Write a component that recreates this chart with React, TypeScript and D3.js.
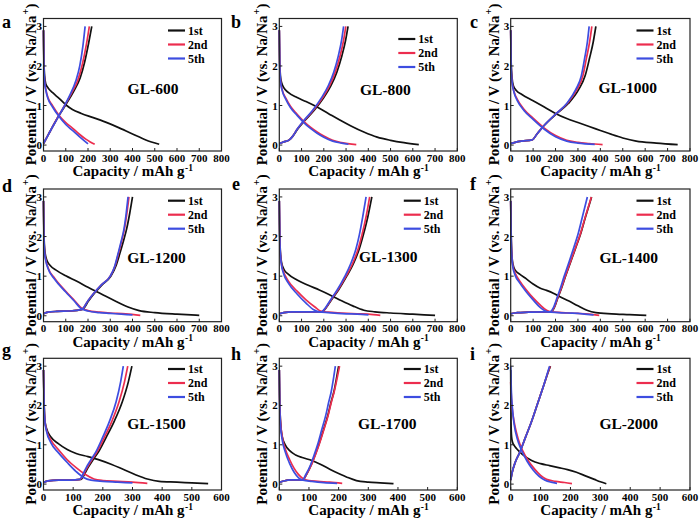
import React from "react";
import * as d3 from "d3";

type Pt = [number, number];

const FONT = '"Liberation Serif", "Times New Roman", serif';

const sampleNames = ["GL-600", "GL-800", "GL-1000", "GL-1200", "GL-1300", "GL-1400", "GL-1500", "GL-1700", "GL-2000"];
const panelLetters = ["a", "b", "c", "d", "e", "f", "g", "h", "i"];
const cycleLabels = ["1st", "2nd", "5th"];
const cycleColors = ["#111111", "#ec2d4e", "#3d4de0"];
const xTicksWide = [0, 100, 200, 300, 400, 500, 600, 700, 800];
const xTicksNarrow = [0, 100, 200, 300, 400, 500, 600];
const yTicks = [0, 1, 2, 3];

// capacity (mAh/g), potential (V): d = discharge, c = charge
const a1d: Pt[] = [[0,2.9],[2,2.1],[5,1.75],[10,1.55],[20,1.45],[40,1.33],[70,1.18],[100,1.02],[130,0.9],[170,0.8],[220,0.7],[270,0.6],[330,0.46],[400,0.28],[460,0.13],[520,0.02]];
const a1c: Pt[] = [[0,0.04],[10,0.14],[30,0.35],[60,0.66],[100,1.02],[135,1.35],[165,1.7],[185,2.1],[203,2.58],[217,3.0]];
const a2d: Pt[] = [[0,2.9],[2,2.0],[5,1.6],[10,1.42],[20,1.2],[40,1.0],[70,0.75],[100,0.57],[130,0.43],[160,0.28],[190,0.15],[210,0.08],[230,0.02]];
const a2c: Pt[] = [[0,0.04],[10,0.14],[30,0.35],[60,0.66],[95,1.0],[125,1.3],[155,1.65],[175,2.05],[193,2.55],[206,3.0]];
const a5d: Pt[] = [[0,2.9],[2,2.0],[5,1.6],[10,1.4],[20,1.18],[40,0.97],[70,0.72],[100,0.52],[130,0.37],[160,0.22],[185,0.1],[200,0.03]];
const a5c: Pt[] = [[0,0.04],[10,0.14],[30,0.35],[60,0.65],[90,0.95],[120,1.28],[145,1.62],[163,2.0],[177,2.5],[187,3.0]];

const b1d: Pt[] = [[0,2.9],[2,2.1],[6,1.7],[12,1.55],[20,1.45],[40,1.33],[80,1.2],[120,1.1],[170,0.96],[220,0.8],[270,0.64],[320,0.49],[380,0.33],[440,0.2],[500,0.12],[560,0.06],[627,0.01]];
const b1c: Pt[] = [[0,0.04],[20,0.08],[45,0.13],[60,0.22],[82,0.4],[115,0.62],[157,0.88],[200,1.2],[232,1.5],[259,1.85],[281,2.25],[298,2.65],[309,3.0]];
const b2d: Pt[] = [[0,2.9],[2,2.0],[6,1.6],[12,1.42],[30,1.18],[50,0.98],[80,0.78],[110,0.6],[140,0.45],[170,0.33],[200,0.23],[240,0.12],[280,0.06],[346,0.01]];
const b2c: Pt[] = [[0,0.04],[20,0.08],[45,0.13],[60,0.22],[80,0.4],[112,0.62],[153,0.88],[195,1.2],[226,1.5],[252,1.85],[273,2.25],[289,2.65],[299,3.0]];
const b5d: Pt[] = [[0,2.9],[2,2.0],[6,1.6],[12,1.4],[30,1.15],[50,0.95],[80,0.75],[110,0.57],[140,0.42],[170,0.3],[200,0.2],[240,0.1],[280,0.05],[311,0.02]];
const b5c: Pt[] = [[0,0.04],[20,0.08],[45,0.13],[60,0.22],[80,0.4],[110,0.62],[150,0.88],[190,1.2],[220,1.5],[245,1.85],[265,2.25],[280,2.65],[289,3.0]];

const c1d: Pt[] = [[0,2.9],[2,2.1],[6,1.7],[12,1.5],[25,1.38],[50,1.28],[100,1.12],[150,0.96],[200,0.8],[250,0.67],[300,0.57],[350,0.47],[400,0.37],[450,0.27],[500,0.18],[560,0.1],[650,0.05],[745,0.01]];
const c1c: Pt[] = [[0,0.04],[20,0.07],[50,0.1],[95,0.13],[120,0.3],[150,0.5],[202,0.78],[257,1.05],[303,1.4],[332,1.75],[352,2.2],[368,2.6],[380,3.0]];
const c2d: Pt[] = [[0,2.9],[2,2.0],[6,1.6],[15,1.35],[30,1.15],[60,0.9],[100,0.68],[150,0.43],[200,0.24],[250,0.12],[300,0.07],[350,0.04],[410,0.01]];
const c2c: Pt[] = [[0,0.04],[20,0.07],[50,0.1],[95,0.13],[120,0.3],[150,0.5],[200,0.78],[252,1.05],[295,1.4],[322,1.75],[338,2.2],[352,2.6],[362,3.0]];
const c5d: Pt[] = [[0,2.9],[2,2.0],[6,1.6],[15,1.33],[30,1.12],[60,0.87],[100,0.65],[150,0.4],[200,0.21],[250,0.1],[300,0.05],[375,0.02]];
const c5c: Pt[] = [[0,0.04],[20,0.07],[50,0.1],[95,0.13],[120,0.3],[150,0.5],[200,0.78],[250,1.05],[290,1.4],[315,1.75],[330,2.2],[342,2.6],[350,3.0]];

const d1d: Pt[] = [[0,2.9],[2,2.1],[5,1.7],[10,1.5],[15,1.4],[30,1.27],[60,1.14],[100,1.01],[150,0.87],[200,0.72],[260,0.55],[320,0.38],[380,0.22],[430,0.13],[500,0.08],[600,0.04],[700,0.01]];
const d1c: Pt[] = [[0,0.05],[20,0.09],[60,0.11],[120,0.12],[175,0.16],[203,0.38],[228,0.56],[263,0.78],[303,1.0],[325,1.25],[343,1.57],[360,1.9],[374,2.2],[388,2.6],[400,3.0]];
const d2d: Pt[] = [[0,2.9],[2,2.0],[5,1.6],[10,1.42],[20,1.22],[50,0.95],[100,0.62],[140,0.38],[170,0.2],[200,0.13],[250,0.09],[300,0.07],[370,0.05],[435,0.01]];
const d2c: Pt[] = [[0,0.05],[20,0.09],[60,0.11],[120,0.12],[172,0.16],[200,0.38],[225,0.56],[260,0.78],[300,1.0],[321,1.25],[337,1.57],[352,1.9],[364,2.2],[375,2.6],[384,3.0]];
const d5d: Pt[] = [[0,2.9],[2,2.0],[5,1.6],[10,1.4],[20,1.2],[50,0.92],[100,0.6],[140,0.36],[165,0.2],[200,0.12],[250,0.08],[300,0.06],[350,0.04],[400,0.02]];
const d5c: Pt[] = [[0,0.05],[20,0.09],[60,0.11],[120,0.12],[172,0.16],[200,0.38],[225,0.56],[260,0.78],[300,1.0],[320,1.25],[335,1.57],[350,1.9],[362,2.2],[372,2.6],[380,3.0]];

const e1d: Pt[] = [[0,2.9],[2,2.1],[5,1.6],[10,1.35],[20,1.18],[40,1.05],[80,0.9],[130,0.77],[180,0.65],[230,0.52],[280,0.38],[330,0.25],[380,0.14],[430,0.1],[500,0.07],[600,0.04],[700,0.01]];
const e1c: Pt[] = [[0,0.05],[20,0.08],[60,0.1],[120,0.1],[190,0.1],[203,0.15],[234,0.4],[266,0.65],[303,1.0],[332,1.3],[360,1.7],[378,2.05],[398,2.5],[416,3.0]];
const e2d: Pt[] = [[0,2.9],[2,2.0],[5,1.55],[10,1.3],[20,1.1],[40,0.88],[80,0.62],[120,0.4],[160,0.22],[185,0.12],[220,0.09],[280,0.07],[350,0.05],[400,0.04],[454,0.01]];
const e2c: Pt[] = [[0,0.05],[20,0.08],[60,0.1],[120,0.1],[190,0.1],[202,0.15],[232,0.4],[263,0.65],[300,1.0],[328,1.3],[355,1.7],[372,2.05],[390,2.5],[406,3.0]];
const e5d: Pt[] = [[0,2.9],[2,2.0],[5,1.55],[10,1.28],[20,1.05],[40,0.83],[80,0.55],[120,0.32],[155,0.15],[180,0.1],[220,0.08],[300,0.05],[350,0.04],[401,0.02]];
const e5c: Pt[] = [[0,0.05],[20,0.08],[60,0.1],[120,0.1],[190,0.1],[200,0.15],[230,0.4],[260,0.65],[295,1.0],[320,1.3],[345,1.7],[360,2.05],[375,2.5],[390,3.0]];

const f1d: Pt[] = [[0,2.9],[2,2.1],[5,1.55],[10,1.3],[20,1.15],[40,1.05],[70,0.93],[100,0.8],[130,0.7],[160,0.64],[190,0.57],[220,0.48],[260,0.37],[300,0.25],[340,0.14],[380,0.08],[450,0.05],[530,0.03],[605,0.01]];
const f1c: Pt[] = [[0,0.05],[30,0.08],[80,0.09],[140,0.1],[180,0.1],[194,0.2],[211,0.46],[227,0.7],[243,0.97],[267,1.35],[291,1.73],[311,2.05],[334,2.5],[361,3.0]];
const f2d: Pt[] = [[0,2.9],[2,2.0],[5,1.5],[10,1.25],[20,1.08],[40,0.88],[70,0.65],[100,0.45],[130,0.28],[160,0.14],[180,0.1],[230,0.08],[300,0.06],[350,0.04],[395,0.01]];
const f2c: Pt[] = [[0,0.05],[30,0.08],[80,0.09],[140,0.1],[178,0.1],[193,0.2],[210,0.46],[226,0.7],[242,0.97],[266,1.35],[290,1.73],[310,2.05],[333,2.5],[360,3.0]];
const f5d: Pt[] = [[0,2.9],[2,2.0],[5,1.5],[10,1.22],[20,1.02],[40,0.83],[70,0.6],[100,0.4],[130,0.22],[155,0.12],[180,0.09],[250,0.07],[320,0.05],[370,0.02]];
const f5c: Pt[] = [[0,0.05],[30,0.08],[80,0.09],[140,0.1],[175,0.1],[190,0.2],[207,0.46],[222,0.7],[237,0.97],[260,1.35],[282,1.73],[300,2.05],[320,2.5],[342,3.0]];

const g1d: Pt[] = [[0,2.9],[2,2.1],[5,1.6],[10,1.42],[25,1.2],[50,1.03],[80,0.88],[110,0.78],[150,0.7],[190,0.61],[230,0.5],[270,0.37],[310,0.24],[350,0.13],[390,0.07],[450,0.05],[500,0.03],[555,0.01]];
const g1c: Pt[] = [[0,0.04],[15,0.08],[50,0.1],[90,0.1],[126,0.12],[138,0.25],[150,0.42],[167,0.62],[187,0.84],[212,1.2],[238,1.59],[266,2.1],[286,2.6],[298,3.0]];
const g2d: Pt[] = [[0,2.9],[2,2.0],[5,1.6],[10,1.38],[25,1.12],[50,0.88],[80,0.62],[110,0.42],[140,0.25],[170,0.13],[200,0.09],[250,0.07],[300,0.05],[350,0.02]];
const g2c: Pt[] = [[0,0.04],[15,0.08],[50,0.1],[90,0.1],[124,0.12],[135,0.25],[147,0.42],[163,0.62],[182,0.84],[206,1.2],[230,1.59],[255,2.1],[273,2.6],[284,3.0]];
const g5d: Pt[] = [[0,2.9],[2,2.0],[5,1.58],[10,1.35],[25,1.05],[50,0.8],[80,0.55],[110,0.32],[135,0.17],[160,0.1],[200,0.07],[250,0.05],[300,0.03]];
const g5c: Pt[] = [[0,0.04],[15,0.08],[50,0.1],[90,0.1],[122,0.12],[133,0.25],[144,0.42],[160,0.62],[178,0.84],[200,1.2],[222,1.59],[245,2.1],[260,2.6],[269,3.0]];

const h1d: Pt[] = [[0,2.9],[2,2.0],[5,1.5],[10,1.2],[20,1.0],[35,0.85],[55,0.74],[80,0.67],[110,0.6],[140,0.5],[170,0.38],[200,0.27],[230,0.17],[260,0.09],[300,0.05],[340,0.03],[385,0.01]];
const h1c: Pt[] = [[0,0.04],[15,0.08],[40,0.11],[60,0.11],[78,0.1],[92,0.25],[108,0.5],[121,0.75],[133,1.0],[149,1.38],[164,1.76],[175,2.1],[184,2.35],[193,2.7],[200,3.0]];
const h2d: Pt[] = [[0,2.9],[1,2.2],[4,1.6],[10,1.2],[20,0.9],[35,0.62],[50,0.4],[65,0.24],[80,0.14],[100,0.09],[130,0.07],[170,0.05],[212,0.02]];
const h2c: Pt[] = [[0,0.04],[15,0.08],[40,0.11],[60,0.11],[78,0.1],[92,0.25],[109,0.5],[122,0.75],[134,1.0],[150,1.38],[165,1.76],[176,2.1],[185,2.35],[195,2.7],[203,3.0]];
const h5d: Pt[] = [[0,2.9],[1,2.2],[4,1.5],[10,1.12],[20,0.82],[35,0.52],[50,0.3],[65,0.16],[80,0.1],[110,0.07],[150,0.04],[195,0.02]];
const h5c: Pt[] = [[0,0.04],[15,0.08],[40,0.11],[60,0.11],[77,0.1],[90,0.25],[106,0.5],[118,0.75],[129,1.0],[143,1.38],[157,1.76],[167,2.1],[175,2.35],[183,2.7],[189,3.0]];

const i1d: Pt[] = [[0,2.9],[1,1.6],[3,1.2],[6,1.07],[12,0.98],[20,0.9],[40,0.75],[70,0.6],[100,0.52],[130,0.47],[160,0.42],[190,0.37],[220,0.3],[250,0.21],[280,0.12],[300,0.06],[320,0.01]];
const i1c: Pt[] = [[0,0.1],[5,0.3],[15,0.55],[30,0.8],[50,1.2],[71,1.62],[91,2.07],[111,2.52],[126,2.86],[133,3.0]];
const i2d: Pt[] = [[0,2.6],[3,2.1],[8,1.75],[15,1.45],[25,1.15],[40,0.85],[60,0.58],[80,0.38],[100,0.22],[120,0.12],[150,0.07],[180,0.04],[205,0.01]];
const i2c: Pt[] = [[0,0.1],[5,0.3],[15,0.55],[30,0.8],[50,1.2],[70,1.6],[90,2.05],[110,2.5],[125,2.85],[132,3.0]];
const i5d: Pt[] = [[0,3.0],[2,2.4],[6,1.9],[12,1.5],[22,1.15],[35,0.88],[55,0.58],[75,0.36],[95,0.2],[115,0.1],[135,0.05],[155,0.02]];
const i5c: Pt[] = [[0,0.1],[5,0.3],[15,0.55],[30,0.8],[50,1.2],[70,1.6],[90,2.05],[110,2.5],[124,2.85],[130,3.0]];

const cycles: Pt[][][][] = [
  [[a1d, a1c], [a2d, a2c], [a5d, a5c]],
  [[b1d, b1c], [b2d, b2c], [b5d, b5c]],
  [[c1d, c1c], [c2d, c2c], [c5d, c5c]],
  [[d1d, d1c], [d2d, d2c], [d5d, d5c]],
  [[e1d, e1c], [e2d, e2c], [e5d, e5c]],
  [[f1d, f1c], [f2d, f2c], [f5d, f5c]],
  [[g1d, g1c], [g2d, g2c], [g5d, g5c]],
  [[h1d, h1c], [h2d, h2c], [h5d, h5c]],
  [[i1d, i1c], [i2d, i2c], [i5d, i5c]],
];
const xMaxes = [800, 800, 800, 800, 800, 800, 600, 600, 600];

// layout
const colLeft = [43.5, 279.3, 510.7];
const colRight = [221.5, 457.3, 690];
const rowTop = [18.5, 189, 358.3];
const rowBottom = [151, 321.7, 490];
const yTitleGap = [8, 12.3, 11.7];
const letterPos: Pt[] = [[2, 28], [231, 28], [470, 28], [2, 192], [232, 190], [470, 190], [2, 356], [231, 360], [470, 360]];
const namePos: Pt[] = [[109.5, 75.5], [106, 76.5], [117, 74.5], [113, 74], [109, 73], [118, 74], [113, 70.5], [108, 70.5], [118, 70.5]];
const legendTop = [12, 20.5, 12, 11.7, 11.7, 11.7, 10.7, 10.7, 10.7];

function Panel({ idx }: { idx: number }) {
  const col = idx % 3;
  const row = Math.floor(idx / 3);
  const L = colLeft[col], R = colRight[col], T = rowTop[row], B = rowBottom[row];
  const x = d3.scaleLinear().domain([0, xMaxes[idx]]).range([L, R]);
  const y = d3.scaleLinear().domain([-0.15, 3.2]).range([B, T]);
  const line = d3.line<Pt>().x(d => x(d[0])).y(d => y(d[1])).curve(d3.curveMonotoneX);
  const xt = xMaxes[idx] === 800 ? xTicksWide : xTicksNarrow;
  const legX0 = idx === 1 ? R - 59 : R - 53.5;
  const midY = (T + B) / 2;
  const midX = (L + R) / 2;
  const yTitleX = L - yTitleGap[col];
  // title widths (Times bold metrics): main part, then superscript placed right after
  const capMain = 112, capSup = 8;
  const potMain = 150.4, potSup = 5.7, potClose = 5;
  const capStart = midX - (capMain + capSup) / 2;
  const potStart = -(potMain + potSup + potClose) / 2;
  return (
    <g>
      {cycles[idx].map((cyc, ci) =>
        cyc.map((seg, si) => (
          <path key={`${ci}-${si}`} d={line(seg) || ""} fill="none" stroke={cycleColors[ci]} strokeWidth={1.7} />
        ))
      )}
      <rect x={L} y={T} width={R - L} height={B - T} fill="none" stroke="#222" strokeWidth={1.2} />
      {xt.map(t => (
        <g key={"x" + t}>
          <line x1={x(t)} x2={x(t)} y1={B} y2={B - 3} stroke="#222" strokeWidth={1} />
          <text x={x(t)} y={B + 10.5} textAnchor="middle" fontSize={11} fontWeight="bold" fontFamily={FONT}>{t}</text>
        </g>
      ))}
      {yTicks.map(t => (
        <g key={"y" + t}>
          <line x1={L} x2={L + 3} y1={y(t)} y2={y(t)} stroke="#222" strokeWidth={1} />
          <text x={L - 1.5} y={y(t) + 4} textAnchor="end" fontSize={11} fontWeight="bold" fontFamily={FONT}>{t}</text>
        </g>
      ))}
      {cycleLabels.map((lab, li) => {
        const ly = T + legendTop[idx] + li * 14;
        return (
          <g key={lab}>
            <line x1={legX0} x2={legX0 + 17} y1={ly} y2={ly} stroke={cycleColors[li]} strokeWidth={2.2} />
            <text x={legX0 + 20} y={ly + 4} fontSize={12} fontWeight="bold" fontFamily={FONT}>{lab}</text>
          </g>
        );
      })}
      <text x={L + namePos[idx][0]} y={T + namePos[idx][1]} textAnchor="middle" fontSize={15.5} fontWeight="bold" fontFamily={FONT}>{sampleNames[idx]}</text>
      <text x={capStart} y={B + 25} fontSize={15} fontWeight="bold" fontFamily={FONT}>Capacity / mAh g</text>
      <text x={capStart + capMain + 0.5} y={B + 19.5} fontSize={9.5} fontWeight="bold" fontFamily={FONT}>-1</text>
      <g transform={`translate(${yTitleX},${midY}) rotate(-90)`}>
        <text x={potStart} y={0} fontSize={15} fontWeight="bold" fontFamily={FONT}>Potential / V (vs. Na/Na</text>
        <text x={potStart + potMain + 0.3} y={-7} fontSize={10} fontWeight="bold" fontFamily={FONT}>+</text>
        <text x={potStart + potMain + potSup + 0.6} y={0} fontSize={15} fontWeight="bold" fontFamily={FONT}>)</text>
      </g>
      <text x={letterPos[idx][0]} y={letterPos[idx][1]} fontSize={18} fontWeight="bold" fontFamily={FONT}>{panelLetters[idx]}</text>
    </g>
  );
}

export default function App() {
  return (
    <svg width={700} height={523} viewBox="0 0 700 523" style={{ position: "absolute", left: 0, top: 0, background: "#fff" }}>
      <rect width={700} height={523} fill="#fff" />
      {sampleNames.map((_, i) => <Panel key={i} idx={i} />)}
    </svg>
  );
}
